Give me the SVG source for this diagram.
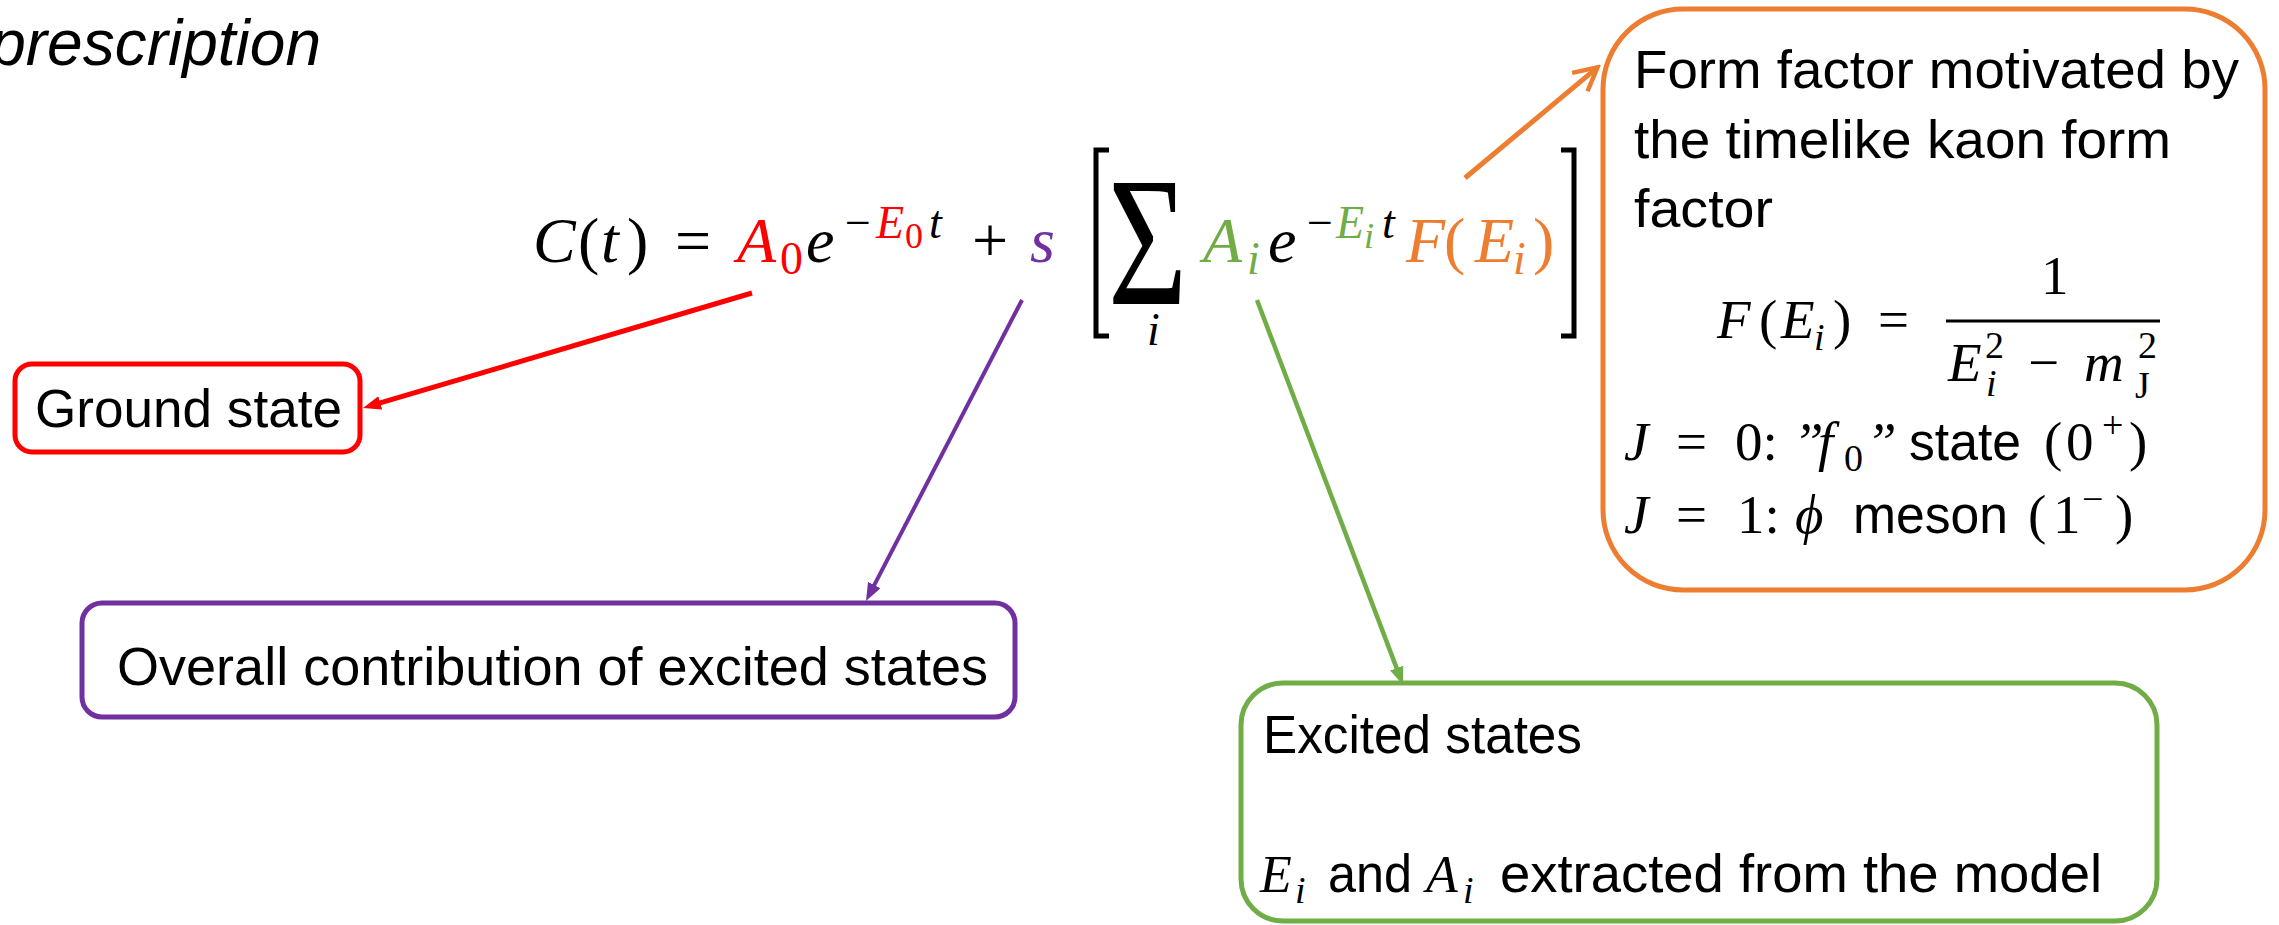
<svg xmlns="http://www.w3.org/2000/svg" width="2279" height="925" viewBox="0 0 2279 925">
<defs>
<style>
.sans{font-family:"Liberation Sans",Arial,sans-serif;font-size:53px;fill:#000}
.mi{font-family:"Liberation Serif","DejaVu Serif",serif;font-style:italic}
.mr{font-family:"Liberation Serif","DejaVu Serif",serif;font-style:normal}
.box{fill:#fff;stroke-width:5}
.conn{fill:none}
.red{fill:#FF0000}.pur{fill:#7030A0}.grn{fill:#70AD47}.org{fill:#ED7D31}
</style>
<marker id="ah-red" markerUnits="userSpaceOnUse" viewBox="0 0 18 14" refX="8" refY="7" markerWidth="18" markerHeight="14" orient="auto"><path d="M0,0 L18,7 L0,14 z" fill="#FF0000"/></marker>
<marker id="ah-pur" markerUnits="userSpaceOnUse" viewBox="0 0 18 14" refX="8" refY="7" markerWidth="18" markerHeight="14" orient="auto"><path d="M0,0 L18,7 L0,14 z" fill="#7030A0"/></marker>
<marker id="ah-grn" markerUnits="userSpaceOnUse" viewBox="0 0 18 14" refX="8" refY="7" markerWidth="18" markerHeight="14" orient="auto"><path d="M0,0 L18,7 L0,14 z" fill="#70AD47"/></marker>
<marker id="ah-org" markerUnits="userSpaceOnUse" viewBox="0 0 30 30" refX="26" refY="15" markerWidth="30" markerHeight="30" orient="auto"><path d="M3,3 L26,15 L3,27" fill="none" stroke="#ED7D31" stroke-width="4.5"/></marker>
</defs>
<rect width="2279" height="925" fill="#fff"/>

<text x="321" y="65" text-anchor="end" style="font-family:'Liberation Sans',Arial,sans-serif;font-style:italic;font-size:64px">prescription</text>

<g id="equation" font-size="64">
<text class="mi" x="533" y="262">C</text>
<text class="mr" x="578" y="262">(</text>
<text class="mi" x="601" y="262">t</text>
<text class="mr" x="627" y="262">)</text>
<text class="mr" x="675" y="262">=</text>
<text class="mi red" x="737" y="262">A</text>
<text class="mr red" x="780" y="274" font-size="46">0</text>
<text class="mi" x="806" y="262">e</text>
<text class="mr" x="845" y="238" font-size="46">−</text>
<text class="mi red" x="876" y="238" font-size="46">E</text>
<text class="mr red" x="905" y="248" font-size="36">0</text>
<text class="mi" x="929" y="238" font-size="46">t</text>
<text class="mr" x="972" y="262">+</text>
<text class="mi pur" x="1030" y="262">s</text>
<path d="M1109,150 H1096 V336 H1109" stroke="#000" stroke-width="5" fill="none"/>
<text class="mr" transform="translate(1108,304) scale(0.74,1)" font-size="184">Σ</text>
<text class="mi" x="1147" y="345" font-size="46">i</text>
<text class="mi grn" x="1203" y="262">A</text>
<text class="mi grn" x="1247" y="274" font-size="46">i</text>
<text class="mi" x="1268" y="262">e</text>
<text class="mr" x="1307" y="238" font-size="46">−</text>
<text class="mi grn" x="1336" y="238" font-size="46">E</text>
<text class="mi grn" x="1364" y="248" font-size="36">i</text>
<text class="mi" x="1382" y="238" font-size="46">t</text>
<text class="mi org" x="1406" y="262">F</text>
<text class="mr org" x="1444" y="262">(</text>
<text class="mi org" x="1475" y="262">E</text>
<text class="mi org" x="1513" y="274" font-size="46">i</text>
<text class="mr org" x="1533" y="262">)</text>
<path d="M1561,150 H1574 V336 H1561" stroke="#000" stroke-width="5" fill="none"/>
</g>

<g id="ground-state">
<rect class="box" x="15" y="364" width="345" height="88" rx="17" stroke="#FF0000"/>
<text class="sans" x="35" y="427" textLength="307" lengthAdjust="spacingAndGlyphs">Ground state</text>
</g>

<g id="overall-contribution">
<rect class="box" x="82" y="603" width="933" height="114" rx="20" stroke="#7030A0"/>
<text class="sans" x="117" y="685" textLength="871" lengthAdjust="spacingAndGlyphs">Overall contribution of excited states</text>
</g>

<g id="excited-states">
<rect class="box" x="1241" y="683" width="916" height="238" rx="42" stroke="#70AD47"/>
<text class="sans" x="1263" y="753" textLength="319" lengthAdjust="spacingAndGlyphs">Excited states</text>
<text class="mi" x="1260" y="892" font-size="52">E</text>
<text class="mi" x="1295" y="903" font-size="38">i</text>
<text class="sans" x="1328" y="892" textLength="84" lengthAdjust="spacingAndGlyphs">and</text>
<text class="mi" x="1426" y="892" font-size="52">A</text>
<text class="mi" x="1463" y="903" font-size="38">i</text>
<text class="sans" x="1500" y="892" textLength="602" lengthAdjust="spacingAndGlyphs">extracted from the model</text>
</g>

<g id="form-factor">
<rect class="box" x="1603" y="9" width="662" height="581" rx="80" stroke="#ED7D31"/>
<text class="sans" x="1634" y="88" textLength="605" lengthAdjust="spacingAndGlyphs">Form factor motivated by</text>
<text class="sans" x="1634" y="158" textLength="537" lengthAdjust="spacingAndGlyphs">the timelike kaon form</text>
<text class="sans" x="1634" y="227" textLength="139" lengthAdjust="spacingAndGlyphs">factor</text>
<g font-size="55">
<text class="mi" x="1717" y="338">F</text>
<text class="mr" x="1759" y="338">(</text>
<text class="mi" x="1781" y="338">E</text>
<text class="mi" x="1814" y="350" font-size="38">i</text>
<text class="mr" x="1833" y="338">)</text>
<text class="mr" x="1878" y="338">=</text>
<text class="mr" x="2041" y="294">1</text>
<line x1="1946" y1="321" x2="2160" y2="321" stroke="#000" stroke-width="3"/>
<text class="mi" x="1948" y="381">E</text>
<text class="mr" x="1985" y="358" font-size="38">2</text>
<text class="mi" x="1986" y="396" font-size="38">i</text>
<text class="mr" x="2028" y="381">−</text>
<text class="mi" x="2084" y="381">m</text>
<text class="mr" x="2138" y="358" font-size="38">2</text>
<text class="mr" x="2135" y="398" font-size="38">J</text>

<text class="mi" x="1624" y="460">J</text>
<text class="mr" x="1676" y="460">=</text>
<text class="mr" x="1735" y="460">0:</text>
<text class="mi" x="1793" y="460">”</text>
<text class="mi" x="1818" y="460">f</text>
<text class="mr" x="1844" y="471" font-size="38">0</text>
<text class="mi" x="1866" y="460">”</text>
<text class="sans" x="1909" y="460" textLength="112" lengthAdjust="spacingAndGlyphs">state</text>
<text class="mr" x="2044" y="460">(</text>
<text class="mr" x="2066" y="460">0</text>
<text class="mr" x="2102" y="438" font-size="38">+</text>
<text class="mr" x="2129" y="460">)</text>

<text class="mi" x="1624" y="533">J</text>
<text class="mr" x="1676" y="533">=</text>
<text class="mr" x="1737" y="533">1:</text>
<text class="mi" x="1795" y="533">ϕ</text>
<text class="sans" x="1853" y="533" textLength="155" lengthAdjust="spacingAndGlyphs">meson</text>
<text class="mr" x="2028" y="533">(</text>
<text class="mr" x="2053" y="533">1</text>
<text class="mr" x="2082" y="512" font-size="38">−</text>
<text class="mr" x="2115" y="533">)</text>
</g>
</g>

<g id="connectors" class="conn">
<path d="M752,293 L372.6,405.2" stroke="#FF0000" stroke-width="5" marker-end="url(#ah-red)"/>
<path d="M1022,300 L870.6,592.1" stroke="#7030A0" stroke-width="4" marker-end="url(#ah-pur)"/>
<path d="M1257,300 L1399.5,675.6" stroke="#70AD47" stroke-width="4.5" marker-end="url(#ah-grn)"/>
<path d="M1465,178 L1597.5,67.3" stroke="#ED7D31" stroke-width="5" marker-end="url(#ah-org)"/>
</g>
</svg>
